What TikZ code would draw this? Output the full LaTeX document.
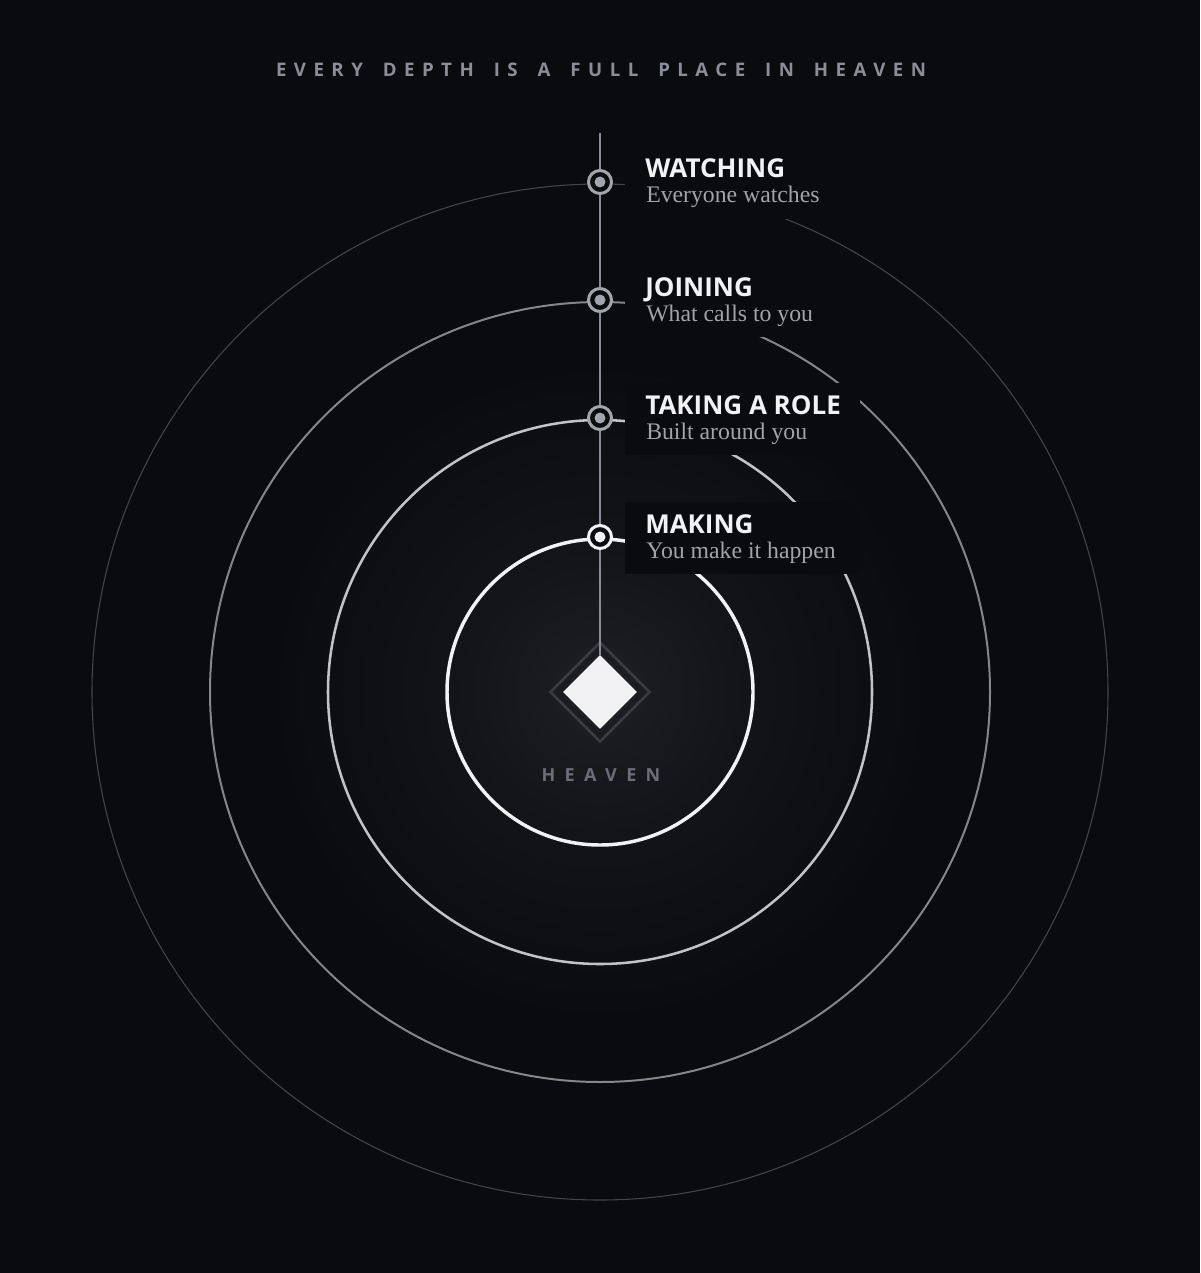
\documentclass[tikz,border=0pt]{standalone}
\usepackage{fontspec}
\setmainfont{Liberation Serif}
\newfontfamily\headfont{Open Sans}
\newfontfamily\titlefont[LetterSpace=40,WordSpace=1.62]{Open Sans}
\newfontfamily\heavenfont[LetterSpace=52]{Open Sans}
\usetikzlibrary{shapes.geometric,calc}
\definecolor{bgcol}{HTML}{0A0B0F}
\definecolor{glowcol}{HTML}{1E1F24}
\definecolor{midglow}{HTML}{131418}
\definecolor{ringone}{HTML}{F2F2F5}
\definecolor{ringtwo}{HTML}{C2C3C8}
\definecolor{ringthree}{HTML}{85868D}
\definecolor{ringfour}{HTML}{44454B}
\definecolor{spinecol}{HTML}{8A8C95}
\definecolor{markcol}{HTML}{A3A5AD}
\definecolor{headcol}{HTML}{F2F2F5}
\definecolor{subcol}{HTML}{A2A3AB}
\definecolor{titlecol}{HTML}{8C8E97}
\definecolor{heavencol}{HTML}{6C6E77}
\definecolor{halocol}{HTML}{3A3B41}
% 25bp is the radius of the shaded circle
\pgfdeclareradialshading{heavenglow}{\pgfpoint{0bp}{0bp}}{color(0bp)=(glowcol); color(11bp)=(midglow); color(25bp)=(bgcol); color(50bp)=(bgcol)}
\tikzstyle{spine}=[draw=spinecol,line width=1.9pt]
\tikzstyle{labelbox}=[fill=bgcol,minimum width=176.25pt,minimum height=54pt,inner sep=0pt]
\tikzstyle{depthring}=[circle,fill=bgcol,inner sep=0pt,minimum size=17.25pt,line width=2.25pt]
\tikzstyle{depthdot}=[circle,inner sep=0pt,minimum size=8.25pt]
\tikzstyle{headtext}=[inner sep=0pt,text=headcol,font={\headfont\bfseries\fontsize{19.5}{21}\selectfont}]
\tikzstyle{subtext}=[inner sep=0pt,text=subcol,font={\fontsize{17.8}{20}\selectfont}]
\tikzstyle{titletext}=[inner sep=0pt,anchor=base,text=titlecol,font={\titlefont\bfseries\fontsize{14}{16}\selectfont}]
\tikzstyle{heaventext}=[inner sep=0pt,anchor=base,text=heavencol,font={\heavenfont\bfseries\fontsize{13.5}{15}\selectfont}]
\newcommand{\newdepth}[5][markcol]{% Syntax: [ring colour] {y in px} {name} {heading} {subtitle}
\pgfmathsetmacro{\ypos}{#2}
\node[labelbox] (#3box) at (742.5,-\ypos-1) {};
\node[depthring,draw=#1] (#3) at (600,-\ypos) {};
\node[depthdot,fill=#1] (#3dot) at (#3) {};
\node[headtext,anchor=base west] (#3head) at (645,-\ypos+4) {#4};
\node[subtext,anchor=base west] (#3sub) at (646,-\ypos-21) {#5};
}
\begin{document}
\begin{tikzpicture}[x=0.75pt,y=0.75pt]
	\fill[bgcol] (0,0) rectangle (1200,-1273);
	\useasboundingbox (0,0) rectangle (1200,-1273);
	\coordinate (heaven) at (600,-692);
	\shade[shading=heavenglow] (heaven) circle (330);
	% depth circles, outermost first
	\foreach \r/\c/\w in {508/ringfour/0.8,390/ringthree/1.5,272/ringtwo/1.9,153/ringone/2.6} {
		\draw[draw=\c,line width=\w pt] (heaven) circle (\r);
	}
	\node[diamond,draw=halocol,line width=1.9pt,minimum size=75pt,inner sep=0pt] (halo) at (heaven) {};
	\node[diamond,fill=ringone,minimum size=55.5pt,inner sep=0pt] (core) at (heaven) {};
	\coordinate (spinetop) at (600,-133);
	\draw[spine] (spinetop) -- (core.north);
	\newdepth{182}{watching}{WATCHING}{Everyone watches}
	\newdepth{300}{joining}{JOINING}{What calls to you}
	\newdepth{418}{role}{TAKING A ROLE}{Built around you}
	\newdepth[ringone]{537}{making}{MAKING}{You make it happen}
	%\draw[red] (heaven) circle (2); % use this to debug
	\node[titletext] (title) at (601,-77) {EVERY DEPTH IS A FULL PLACE IN HEAVEN};
	\node[heaventext] (heavenlabel) at (601,-781) {HEAVEN};
\end{tikzpicture}
\end{document}
